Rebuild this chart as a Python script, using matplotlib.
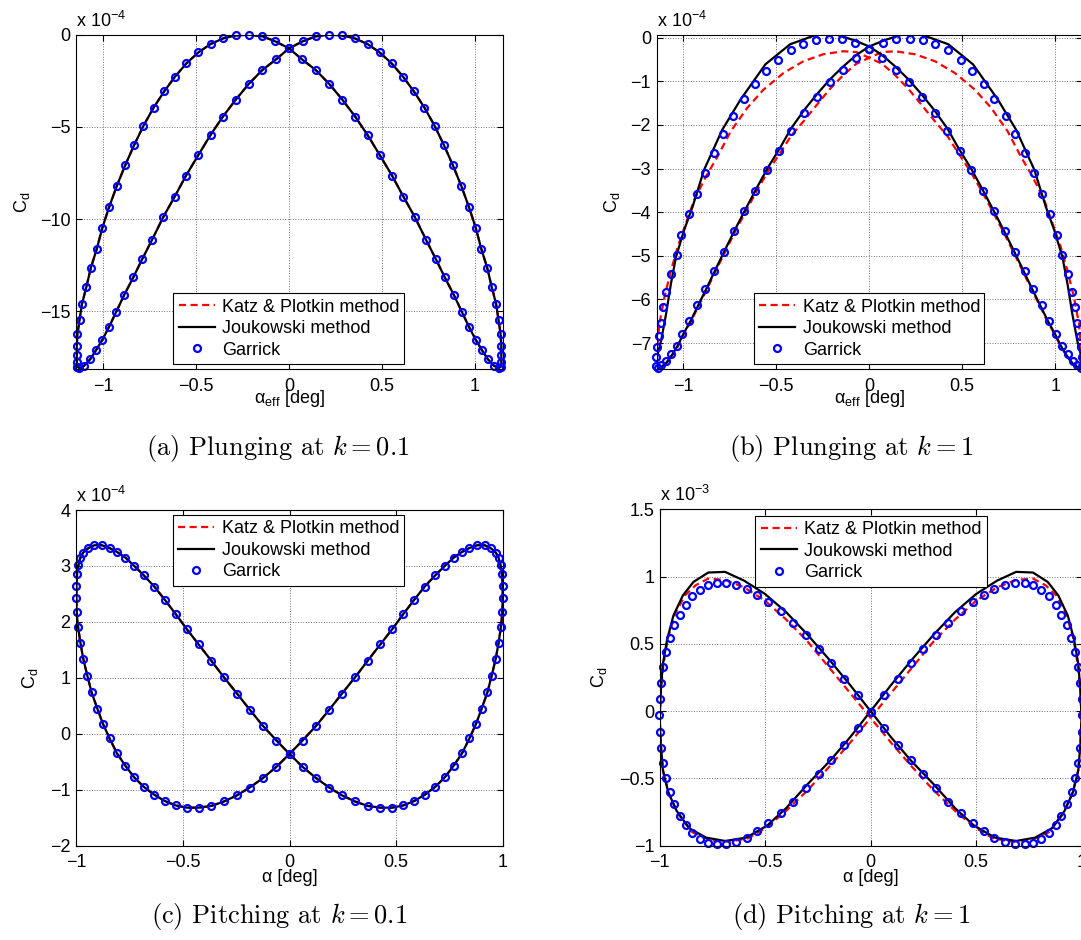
import matplotlib
matplotlib.use("Agg")
import matplotlib.pyplot as plt
from matplotlib.ticker import FuncFormatter

# ---- data ---------------------------------------------------------------
# (a) plunging, k = 0.1  (C_d in 1e-4), closed loop; all three methods coincide
plunge01_alpha = [
    -1.139, -1.141, -1.141, -1.141, -1.137, -1.126, -1.113, -1.089, -1.065, -1.033,
    -1.004, -0.967, -0.926, -0.881, -0.833, -0.783, -0.728, -0.670, -0.613, -0.552,
    -0.487, -0.422, -0.354, -0.285, -0.215, -0.143, -0.074, 0.0,
    0.070, 0.144, 0.217, 0.287, 0.356, 0.422, 0.489, 0.554, 0.615, 0.676,
    0.737, 0.789, 0.837, 0.887, 0.930, 0.969, 1.004, 1.037, 1.069, 1.102, 1.128,
    1.139, 1.141, 1.141, 1.141, 1.137, 1.126, 1.113, 1.089, 1.065, 1.033,
    1.004, 0.967, 0.926, 0.881, 0.833, 0.783, 0.728, 0.670, 0.613, 0.552,
    0.487, 0.422, 0.354, 0.285, 0.215, 0.143, 0.074, 0.0,
    -0.070, -0.144, -0.217, -0.287, -0.356, -0.422, -0.489, -0.554, -0.615, -0.676,
    -0.737, -0.789, -0.837, -0.887, -0.930, -0.969, -1.004, -1.037, -1.069, -1.102, -1.128,
    -1.139]
plunge01_outer = [
    -18.0, -17.78, -17.36, -16.87, -16.22, -15.48, -14.61, -13.67, -12.64, -11.61,
    -10.49, -9.35, -8.21, -7.09, -6.00, -4.95, -3.96, -3.06, -2.28, -1.56,
    -0.96, -0.51, -0.20, -0.04, 0.0, -0.09, -0.36, -0.74]
plunge01_inner = [
    -1.34, -1.92, -2.68, -3.53, -4.45, -5.44, -6.55, -7.65, -8.79, -9.89,
    -11.14, -12.17, -13.16, -14.14, -15.06, -15.88, -16.56, -17.11, -17.61, -17.96, -18.08]
plunge01_cd = plunge01_outer + plunge01_inner + plunge01_outer + plunge01_inner + [-18.0]

# (b) plunging, k = 1  (C_d in 1e-4)
plunge1_garrick_alpha = [
    -1.137, -1.145, -1.145, -1.141, -1.132, -1.119, -1.109, -1.093, -1.067, -1.035,
    -1.011, -0.970, -0.928, -0.885, -0.835, -0.785, -0.733, -0.673, -0.616, -0.555,
    -0.492, -0.423, -0.356, -0.288, -0.217, -0.145, -0.074, 0.0,
    0.071, 0.143, 0.213, 0.282, 0.353, 0.419, 0.486, 0.549, 0.614, 0.673,
    0.729, 0.783, 0.835, 0.881, 0.928, 0.967, 1.004, 1.035, 1.067, 1.095, 1.119, 1.137,
    1.145, 1.145, 1.141, 1.132, 1.119, 1.109, 1.093, 1.067, 1.035,
    1.011, 0.970, 0.928, 0.885, 0.835, 0.785, 0.733, 0.673, 0.616, 0.555,
    0.492, 0.423, 0.356, 0.288, 0.217, 0.145, 0.074, 0.0,
    -0.071, -0.143, -0.213, -0.282, -0.353, -0.419, -0.486, -0.549, -0.614, -0.673,
    -0.729, -0.783, -0.835, -0.881, -0.928, -0.967, -1.004, -1.035, -1.067, -1.095, -1.119]
plunge1_garrick_cd = [
    -7.56, -7.53, -7.31, -7.10, -6.83, -6.53, -6.18, -5.82, -5.41, -4.98,
    -4.52, -4.05, -3.58, -3.11, -2.65, -2.20, -1.79, -1.40, -1.06, -0.76,
    -0.50, -0.29, -0.14, -0.05, -0.02, -0.04, -0.13, -0.27,
    -0.47, -0.73, -1.01, -1.37, -1.73, -2.14, -2.59, -3.03, -3.51, -3.98,
    -4.44, -4.92, -5.35, -5.76, -6.13, -6.50, -6.79, -7.06, -7.25, -7.42, -7.51, -7.56,
    -7.53, -7.31, -7.10, -6.83, -6.53, -6.18, -5.82, -5.41, -4.98,
    -4.52, -4.05, -3.58, -3.11, -2.65, -2.20, -1.79, -1.40, -1.06, -0.76,
    -0.50, -0.29, -0.14, -0.05, -0.02, -0.04, -0.13, -0.27,
    -0.47, -0.73, -1.01, -1.37, -1.73, -2.14, -2.59, -3.03, -3.51, -3.98,
    -4.44, -4.92, -5.35, -5.76, -6.13, -6.50, -6.79, -7.06, -7.25, -7.42, -7.51]

plunge1_jouk_alpha = [
    -1.143, -1.14, -1.119, -1.092, -1.066, -1.039, -0.995, -0.950, -0.888, -0.790,
    -0.692, -0.558, -0.425, -0.282, -0.176, -0.087, 0.0,
    0.07, 0.14, 0.21, 0.28, 0.35, 0.42, 0.48, 0.545, 0.607, 0.666,
    0.723, 0.776, 0.826, 0.874, 0.919, 0.959, 0.999, 1.03, 1.06, 1.09, 1.12,
    1.143, 1.14, 1.119, 1.092, 1.066, 1.039, 0.995, 0.950, 0.888, 0.790,
    0.692, 0.558, 0.425, 0.282, 0.176, 0.087, 0.0,
    -0.07, -0.14, -0.21, -0.28, -0.35, -0.42, -0.48, -0.545, -0.607, -0.666,
    -0.723, -0.776, -0.826, -0.874, -0.919, -0.959, -0.999, -1.03, -1.06, -1.09, -1.12,
    -1.143]
plunge1_jouk_cd = [
    -7.6, -7.3, -6.95, -6.33, -5.64, -5.03, -4.41, -3.88, -3.03, -2.11,
    -1.42, -0.61, -0.15, 0.07, 0.07, -0.05, -0.2,
    -0.40, -0.66, -0.95, -1.29, -1.66, -2.08, -2.53, -2.98, -3.46, -3.94,
    -4.41, -4.87, -5.31, -5.74, -6.13, -6.48, -6.79, -7.06, -7.27, -7.45, -7.56,
    -7.6, -7.3, -6.95, -6.33, -5.64, -5.03, -4.41, -3.88, -3.03, -2.11,
    -1.42, -0.61, -0.15, 0.07, 0.07, -0.05, -0.2,
    -0.40, -0.66, -0.95, -1.29, -1.66, -2.08, -2.53, -2.98, -3.46, -3.94,
    -4.41, -4.87, -5.31, -5.74, -6.13, -6.48, -6.79, -7.06, -7.27, -7.45, -7.56,
    -7.6]

plunge1_katz_alpha = [
    -1.143, -1.14, -1.128, -1.101, -1.066, -1.030, -0.986, -0.941, -0.879, -0.816,
    -0.745, -0.656, -0.568, -0.461, -0.354, -0.247, -0.140, -0.069, 0.0,
    0.07, 0.14, 0.21, 0.28, 0.35, 0.42, 0.48, 0.545, 0.607, 0.666,
    0.723, 0.776, 0.826, 0.874, 0.919, 0.959, 0.999, 1.03, 1.06, 1.09, 1.12,
    1.143, 1.14, 1.128, 1.101, 1.066, 1.030, 0.986, 0.941, 0.879, 0.816,
    0.745, 0.656, 0.568, 0.461, 0.354, 0.247, 0.140, 0.069, 0.0,
    -0.07, -0.14, -0.21, -0.28, -0.35, -0.42, -0.48, -0.545, -0.607, -0.666,
    -0.723, -0.776, -0.826, -0.874, -0.919, -0.959, -0.999, -1.03, -1.06, -1.09, -1.12,
    -1.143]
plunge1_katz_cd = [
    -7.58, -7.1, -6.56, -5.95, -5.34, -4.80, -4.26, -3.72, -3.19, -2.73,
    -2.15, -1.61, -1.19, -0.81, -0.54, -0.38, -0.31, -0.33, -0.46,
    -0.60, -0.86, -1.17, -1.53, -1.90, -2.25, -2.65, -3.07, -3.53, -4.00,
    -4.46, -4.92, -5.35, -5.78, -6.16, -6.51, -6.81, -7.08, -7.28, -7.45, -7.55,
    -7.58, -7.1, -6.56, -5.95, -5.34, -4.80, -4.26, -3.72, -3.19, -2.73,
    -2.15, -1.61, -1.19, -0.81, -0.54, -0.38, -0.31, -0.33, -0.46,
    -0.60, -0.86, -1.17, -1.53, -1.90, -2.25, -2.65, -3.07, -3.53, -4.00,
    -4.46, -4.92, -5.35, -5.78, -6.16, -6.51, -6.81, -7.08, -7.28, -7.45, -7.55,
    -7.58]

# (c) pitching, k = 0.1  (C_d in 1e-4); all three methods coincide
pitch01_alpha = [
    0.0, 0.061, 0.124, 0.186, 0.246, 0.307, 0.367, 0.426, 0.481, 0.533,
    0.585, 0.633, 0.682, 0.727, 0.769, 0.808, 0.843, 0.879, 0.914, 0.942,
    0.966, 0.979, 0.989, 0.995, 0.998, 0.998, 0.997, 0.990, 0.979, 0.966,
    0.947, 0.927, 0.900, 0.874, 0.843, 0.808, 0.769, 0.727, 0.682, 0.633,
    0.585, 0.533, 0.481, 0.426, 0.367, 0.307, 0.246, 0.186, 0.124, 0.061,
    0.0, -0.061, -0.124, -0.186, -0.246, -0.307, -0.367, -0.426, -0.481, -0.533,
    -0.585, -0.633, -0.682, -0.727, -0.769, -0.808, -0.843, -0.879, -0.914, -0.942,
    -0.966, -0.979, -0.989, -0.995, -0.998, -0.998, -0.997, -0.990, -0.979, -0.966,
    -0.947, -0.927, -0.900, -0.874, -0.843, -0.808, -0.769, -0.727, -0.682, -0.633,
    -0.585, -0.533, -0.481, -0.426, -0.367, -0.307, -0.246, -0.186, -0.124, -0.061,
    0.0]
pitch01_lobe = [
    -0.36, -0.12, 0.14, 0.43, 0.72, 1.01, 1.31, 1.60, 1.87, 2.14,
    2.40, 2.63, 2.83, 3.00, 3.15, 3.25, 3.32, 3.37, 3.37, 3.32,
    3.24, 3.15, 3.01, 2.85, 2.64, 2.42, 2.17, 1.90, 1.62, 1.34,
    1.04, 0.74, 0.45, 0.18, -0.08, -0.35, -0.57, -0.78, -0.95, -1.09,
    -1.20, -1.28, -1.32, -1.32, -1.29, -1.21, -1.10, -0.96, -0.79, -0.59]
pitch01_cd = pitch01_lobe + pitch01_lobe + [-0.36]

# (d) pitching, k = 1  (C_d in 1e-3)
pitch1_garrick_alpha = [
    0.0, 0.062, 0.128, 0.190, 0.247, 0.308, 0.368, 0.427, 0.486, 0.537,
    0.586, 0.638, 0.684, 0.730, 0.771, 0.810, 0.846, 0.877, 0.905, 0.930,
    0.951, 0.969, 0.984, 0.995, 1.000, 1.002, 1.000, 0.995, 0.984, 0.969,
    0.953, 0.930, 0.905, 0.877, 0.846, 0.810, 0.771, 0.730, 0.684, 0.638,
    0.586, 0.537, 0.486, 0.427, 0.368, 0.308, 0.247, 0.190, 0.128, 0.062,
    0.0, -0.062, -0.128, -0.190, -0.247, -0.308, -0.368, -0.427, -0.486, -0.537,
    -0.586, -0.638, -0.684, -0.730, -0.771, -0.810, -0.846, -0.877, -0.905, -0.930,
    -0.951, -0.969, -0.984, -0.995, -1.000, -1.002, -1.000, -0.995, -0.984, -0.969,
    -0.953, -0.930, -0.905, -0.877, -0.846, -0.810, -0.771, -0.730, -0.684, -0.638,
    -0.586, -0.537, -0.486, -0.427, -0.368, -0.308, -0.247, -0.190, -0.128, -0.062]
pitch1_garrick_lobe = [
    -0.005, 0.119, 0.240, 0.356, 0.463, 0.564, 0.656, 0.743, 0.812, 0.866,
    0.911, 0.938, 0.953, 0.950, 0.936, 0.899, 0.854, 0.792, 0.718, 0.639,
    0.540, 0.438, 0.327, 0.210, 0.087, -0.032, -0.156, -0.272, -0.389, -0.500,
    -0.599, -0.693, -0.780, -0.849, -0.903, -0.948, -0.978, -0.990, -0.990, -0.973,
    -0.941, -0.891, -0.834, -0.760, -0.673, -0.574, -0.470, -0.366, -0.248, -0.124]
pitch1_garrick_cd = pitch1_garrick_lobe + pitch1_garrick_lobe

pitch1_jouk_alpha = [
    0.0, 0.1, 0.2, 0.3, 0.4, 0.5, 0.6, 0.69, 0.77, 0.84,
    0.89, 0.935, 0.965, 0.985, 0.995, 1.0, 0.995, 0.985, 0.96, 0.92,
    0.86, 0.78, 0.69, 0.59, 0.49, 0.4, 0.3, 0.19, 0.095,
    0.0, -0.1, -0.2, -0.3, -0.4, -0.5, -0.6, -0.69, -0.77, -0.84,
    -0.89, -0.935, -0.965, -0.985, -0.995, -1.0, -0.995, -0.985, -0.96, -0.92,
    -0.86, -0.78, -0.69, -0.59, -0.49, -0.4, -0.3, -0.19, -0.095, 0.0]
pitch1_jouk_lobe = [
    0.0, 0.2, 0.39, 0.57, 0.735, 0.87, 0.97, 1.035, 1.03, 0.96,
    0.86, 0.71, 0.53, 0.35, 0.15, -0.05, -0.24, -0.44, -0.6, -0.74,
    -0.87, -0.94, -0.965, -0.94, -0.85, -0.72, -0.545, -0.365, -0.19]
pitch1_jouk_cd = pitch1_jouk_lobe + pitch1_jouk_lobe + [0.0]

pitch1_katz_alpha = [
    0.0, 0.1, 0.2, 0.3, 0.4, 0.5, 0.6, 0.69, 0.77, 0.83,
    0.88, 0.925, 0.96, 0.982, 0.995, 1.0, 0.995, 0.983, 0.955, 0.91,
    0.845, 0.76, 0.67, 0.58, 0.49, 0.4, 0.3, 0.2, 0.1,
    0.0, -0.1, -0.2, -0.3, -0.4, -0.5, -0.6, -0.69, -0.77, -0.83,
    -0.88, -0.925, -0.96, -0.982, -0.995, -1.0, -0.995, -0.983, -0.955, -0.91,
    -0.845, -0.76, -0.67, -0.58, -0.49, -0.4, -0.3, -0.2, -0.1, 0.0]
pitch1_katz_lobe = [
    -0.05, 0.14, 0.33, 0.52, 0.68, 0.82, 0.92, 0.975, 0.985, 0.935,
    0.86, 0.73, 0.55, 0.35, 0.15, -0.05, -0.25, -0.45, -0.62, -0.77,
    -0.9, -0.96, -0.97, -0.945, -0.86, -0.74, -0.59, -0.42, -0.24]
pitch1_katz_cd = pitch1_katz_lobe + pitch1_katz_lobe + [-0.05]

legend_labels = ['Katz & Plotkin method', 'Joukowski method', 'Garrick']

# ---- figure -------------------------------------------------------------
plt.rcParams['font.family'] = ['Liberation Sans', 'DejaVu Sans']
plt.rcParams['font.size'] = 13
plt.rcParams['axes.linewidth'] = 0.8

W, H = 1081, 940
fig = plt.figure(figsize=(W / 100, H / 100), dpi=100)


def px_axes(left, top, right, bottom):
    return fig.add_axes([left / W, 1 - bottom / H, (right - left) / W, (bottom - top) / H])


fmt = FuncFormatter(lambda v, p: ('%g' % v).replace('-', '\u2212'))


def draw(ax, katz, jouk, garr, xlim, ylim, yticks, expo, xlabel, leg_y, leg_loc, leg_x, leg_w, ylab_x, xlab_y):
    l1, = ax.plot(katz[0], katz[1], color='red', lw=1.6, ls=(0, (3.2, 2.0)))
    l2, = ax.plot(jouk[0], jouk[1], color='black', lw=1.6)
    l3, = ax.plot(garr[0], garr[1], ls='none', marker='o', ms=5, mew=1.6,
                  mfc='none', mec='blue', clip_on=False)
    ax.set_xlim(xlim)
    ax.set_ylim(ylim)
    ax.set_xticks([-1, -0.5, 0, 0.5, 1])
    ax.set_yticks(yticks)
    ax.xaxis.set_major_formatter(fmt)
    ax.yaxis.set_major_formatter(fmt)
    ax.tick_params(direction='in', top=True, right=True, length=4, width=0.8)
    ax.tick_params(axis='x', pad=6)
    ax.tick_params(axis='y', pad=4)
    ax.grid(True, ls=':', color='0.45', lw=0.7)
    ax.text(0, 1.012, 'x 10$^{\\mathregular{%d}}$' % expo, transform=ax.transAxes,
            ha='left', va='bottom', fontsize=13)
    ax.set_xlabel(xlabel)
    ax.set_ylabel('C$_\\mathregular{d}$')
    ax.yaxis.set_label_coords(ylab_x, 0.5)
    ax.xaxis.set_label_coords(0.5, xlab_y)
    leg = ax.legend([l1, l2, l3], legend_labels, loc=leg_loc,
                    bbox_to_anchor=(leg_x, leg_y, leg_w, 0), mode='expand',
                    fancybox=False, framealpha=1, edgecolor='black', borderaxespad=0,
                    handlelength=2.0, handletextpad=0.4, labelspacing=0.25,
                    borderpad=0.3, fontsize=13)
    leg.get_frame().set_linewidth(0.8)


ax_a = px_axes(76, 34.7, 503, 369.3)
ax_b = px_axes(656.6, 34.7, 1081.8, 369.3)
ax_c = px_axes(76, 510, 503, 845.7)
ax_d = px_axes(659.7, 509.3, 1081.5, 845.7)

alpha_eff = '\u03b1$_\\mathregular{eff}$ [deg]'
alpha_lab = '\u03b1 [deg]'

draw(ax_a, (plunge01_alpha, plunge01_cd), (plunge01_alpha, plunge01_cd),
     (plunge01_alpha, plunge01_cd), (-1.145, 1.15), (-18.15, 0), [-15, -10, -5, 0],
     -4, alpha_eff, 0.016, 'lower left', 0.228, 0.54, -0.103, -0.055)
draw(ax_b, (plunge1_katz_alpha, plunge1_katz_cd), (plunge1_jouk_alpha, plunge1_jouk_cd),
     (plunge1_garrick_alpha, plunge1_garrick_cd), (-1.143, 1.143), (-7.6, 0.069),
     [-7, -6, -5, -4, -3, -2, -1, 0], -4, alpha_eff, 0.016, 'lower left', 0.229, 0.542,
     -0.081, -0.055)
draw(ax_c, (pitch01_alpha, pitch01_cd), (pitch01_alpha, pitch01_cd),
     (pitch01_alpha, pitch01_cd), (-1, 1), (-2, 4), [-2, -1, 0, 1, 2, 3, 4],
     -4, alpha_lab, 0.985, 'upper left', 0.227, 0.541, -0.084, -0.068)
draw(ax_d, (pitch1_katz_alpha, pitch1_katz_cd), (pitch1_jouk_alpha, pitch1_jouk_cd),
     (pitch1_garrick_alpha, pitch1_garrick_cd), (-1, 1), (-1, 1.5),
     [-1, -0.5, 0, 0.5, 1, 1.5], -3, alpha_lab, 0.981, 'upper left', 0.227, 0.548,
     -0.12, -0.068)

captions = ['(a) Plunging at $k = 0.1$', '(b) Plunging at $k = 1$',
            '(c) Pitching at $k = 0.1$', '(d) Pitching at $k = 1$']
cap_pos = [(278, 448), (851, 448), (279, 917), (851, 917)]
for txt, (cx, cy) in zip(captions, cap_pos):
    fig.text(cx / W, 1 - cy / H, txt, ha='center', va='center', fontsize=19,
             family='cmr10', math_fontfamily='cm')

fig.savefig('out.png', dpi=100)
